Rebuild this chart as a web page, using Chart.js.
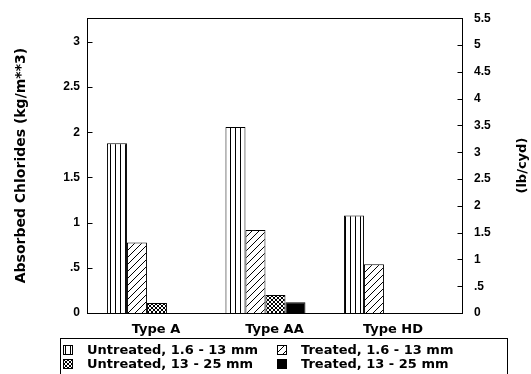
<!DOCTYPE html>
<html lang="en">
<head>
    <meta charset="UTF-8">
    <title>Absorbed Chlorides</title>
    <style>
        body { margin: 0; background: #fff; }
        #wrap { width: 531px; height: 374px; position: relative; }
    </style>
    <script src="https://cdn.jsdelivr.net/npm/chart.js"></script>
</head>
<body>

<div id="wrap"><canvas id="chlorideChart"></canvas></div>

<script>
    // values (kg/m**3)
    const categories = ['Type A', 'Type AA', 'Type HD'];
    const untreatedFine = [1.88, 2.06, 1.08];
    const treatedFine = [0.78, 0.92, 0.54];
    const untreatedCoarse = [0.11, 0.20, 0];
    const treatedCoarse = [0, 0.12, 0];
    const seriesLabels = ['Untreated, 1.6 - 13 mm', 'Treated, 1.6 - 13 mm',
                          'Untreated, 13 - 25 mm', 'Treated, 13 - 25 mm'];
    const lbMax = 5.5;
    const kgToLb = 1.6856;

    const textFont = 'bold 13px "DejaVu Sans", sans-serif';

    function makePattern(w, h, draw) {
        const c = document.createElement('canvas');
        c.width = w; c.height = h;
        const g = c.getContext('2d');
        g.fillStyle = '#fff';
        g.fillRect(0, 0, w, h);
        g.strokeStyle = '#000';
        g.fillStyle = '#000';
        g.lineWidth = 1;
        draw(g);
        return g.createPattern(c, 'repeat');
    }

    const stripes = makePattern(5, 5, g => g.fillRect(0, 0, 1, 5));
    const hatch = makePattern(7, 7, g => {
        g.beginPath();
        g.moveTo(0, 7); g.lineTo(7, 0);
        g.moveTo(-1, 1); g.lineTo(1, -1);
        g.moveTo(6, 8); g.lineTo(8, 6);
        g.stroke();
    });
    const checks = makePattern(4, 4, g => {
        g.beginPath();
        g.moveTo(0, 0); g.lineTo(4, 4);
        g.moveTo(0, 4); g.lineTo(4, 0);
        g.stroke();
    });
    const fills = [stripes, hatch, checks, '#000'];

    // frame, inward ticks, right title and boxed legend
    const extras = {
        id: 'extras',
        afterDraw(chart) {
            const ctx = chart.ctx;
            const a = chart.chartArea;
            const L = Math.round(a.left) + 0.5, R = Math.round(a.right) - 0.5;
            const T = Math.round(a.top) + 0.5, B = Math.round(a.bottom) + 0.5;
            ctx.save();
            ctx.strokeStyle = '#000';
            ctx.lineWidth = 1;
            ctx.strokeRect(L, T, R - L, B - T);

            ctx.beginPath();
            chart.scales.y.ticks.forEach(t => {
                const y = Math.round(chart.scales.y.getPixelForValue(t.value)) + 0.5;
                ctx.moveTo(L, y); ctx.lineTo(L + 5, y);
            });
            chart.scales.y1.ticks.forEach(t => {
                const y = Math.round(chart.scales.y1.getPixelForValue(t.value)) + 0.5;
                ctx.moveTo(R, y); ctx.lineTo(R - 5, y);
            });
            ctx.stroke();

            ctx.fillStyle = '#000';
            ctx.font = textFont;
            ctx.textAlign = 'center';
            ctx.textBaseline = 'middle';
            ctx.save();
            ctx.translate(523, (a.top + a.bottom) / 2);
            ctx.rotate(-Math.PI / 2);
            ctx.fillText('(lb/cyd)', 0, 0);
            ctx.restore();

            // legend
            ctx.strokeRect(60.5, 338.5, 447, 40);
            const cols = [63, 277], rows = [350, 364];
            ctx.textAlign = 'left';
            chart.data.datasets.forEach((ds, i) => {
                const x = cols[i % 2], y = rows[Math.floor(i / 2)];
                ctx.fillStyle = ds.backgroundColor;
                ctx.fillRect(x, y - 5, 10, 10);
                ctx.strokeRect(x + 0.5, y - 4.5, 9, 9);
                ctx.fillStyle = '#000';
                ctx.fillText(ds.label, x + 24, y + 1);
            });
            ctx.restore();
        }
    };

    const series = [untreatedFine, treatedFine, untreatedCoarse, treatedCoarse];

    const ctx = document.getElementById('chlorideChart').getContext('2d');
    const chart = new Chart(ctx, {
        type: 'bar',
        data: {
            datasets: series.map((vals, i) => ({
                label: seriesLabels[i],
                data: vals.map((v, j) => ({ x: j + 1, y: v })),
                backgroundColor: fills[i],
                borderColor: '#000',
                borderWidth: 1,
                categoryPercentage: 0.675,
                barPercentage: 1.0,
                yAxisID: 'y'
            }))
        },
        options: {
            responsive: true,
            maintainAspectRatio: false,
            animation: false,
            layout: { padding: { top: 16, bottom: 36, left: 0, right: 0 } },
            plugins: {
                legend: { display: false },
                tooltip: { enabled: false }
            },
            scales: {
                x: {
                    type: 'linear',
                    offset: false,
                    min: 0.494,
                    max: 3.667,
                    grid: { display: false, drawTicks: false },
                    border: { display: false },
                    ticks: {
                        stepSize: 1,
                        includeBounds: false,
                        labelOffset: 9,
                        color: '#000',
                        padding: 9,
                        font: { family: '"DejaVu Sans", sans-serif', size: 13, weight: 'bold' },
                        callback: v => categories[v - 1] || ''
                    },
                    afterFit(scale) { scale.height = 25; }
                },
                y: {
                    position: 'left',
                    min: 0,
                    max: lbMax / kgToLb,
                    grid: { display: false, drawTicks: false },
                    border: { display: false },
                    ticks: {
                        stepSize: 0.5,
                        includeBounds: false,
                        color: '#000',
                        padding: 7,
                        font: { family: '"Liberation Sans", Arial, sans-serif', size: 12, weight: 'bold' },
                        callback: v => v === 0 ? '0' : String(v).replace(/^0\./, '.')
                    },
                    title: {
                        display: true,
                        text: 'Absorbed Chlorides (kg/m**3)',
                        color: '#000',
                        padding: { top: 13, bottom: 0 },
                        font: { family: '"DejaVu Sans", sans-serif', size: 14, weight: 'bold' }
                    },
                    afterFit(scale) { scale.width = 87; }
                },
                y1: {
                    position: 'right',
                    min: 0,
                    max: lbMax,
                    grid: { display: false, drawTicks: false },
                    border: { display: false },
                    ticks: {
                        stepSize: 0.5,
                        color: '#000',
                        padding: 11,
                        font: { family: '"Liberation Sans", Arial, sans-serif', size: 12, weight: 'bold' },
                        callback: v => v === 0 ? '0' : String(v).replace(/^0\./, '.')
                    },
                    afterFit(scale) { scale.width = 68; }
                }
            }
        },
        plugins: [extras]
    });
</script>

</body>
</html>
